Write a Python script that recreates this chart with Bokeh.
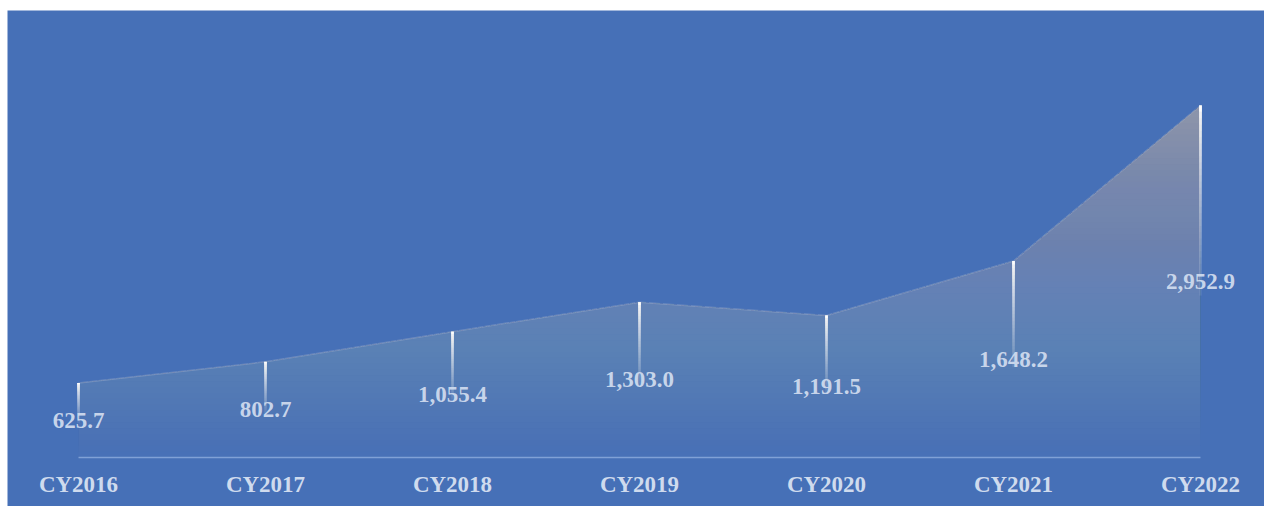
import numpy as np
from bokeh.plotting import figure
from bokeh.models import Range1d, ColumnDataSource
from bokeh.core.properties import value
from bokeh.embed import file_html
from bokeh.resources import INLINE

categories = ["CY2016", "CY2017", "CY2018", "CY2019", "CY2020", "CY2021", "CY2022"]
values = [625.7, 802.7, 1055.4, 1303.0, 1191.5, 1648.2, 2952.9]
value_labels = ["625.7", "802.7", "1,055.4", "1,303.0", "1,191.5", "1,648.2", "2,952.9"]

BG = "#4670B7"
TXT = "#CFDBEE"
FONT = value("Liberation Serif")

x = np.arange(len(categories), dtype=float)
v = np.array(values)
vmax = v.max()

p = figure(width=1264, height=506, output_backend="svg", toolbar_location=None,
           x_range=Range1d(-0.3797, 6.3422), y_range=Range1d(-411.0, 3749.7),
           min_border_left=7, min_border_top=10, min_border_right=0, min_border_bottom=0)
p.axis.visible = False
p.grid.visible = False
p.outline_line_color = None
p.background_fill_color = BG
p.border_fill_color = "white"

# gradient area: stacked layers (each from a level up to the curve)
xd = np.linspace(x[0], x[-1], 2400)
yd = np.interp(xd, x, v)
N = 60
levels = vmax * np.arange(N) / N
target = 0.02 + 0.78 * (levels + vmax / N) / vmax  # opacity at band k
prev = 0.0
for k in range(N):
    a = 1 - (1 - target[k]) / (1 - prev) if k > 0 else target[0]
    prev = target[k]
    p.varea(x=xd, y1=np.minimum(yd, levels[k]), y2=yd,
            fill_color="#AFAFB4", fill_alpha=float(a))

# faint top edge
p.line(x, v, line_color="#B4BCD0", line_alpha=0.35, line_width=1.5)

# baseline
p.line([x[0], x[-1]], [0, 0], line_color="#8FAEDD", line_alpha=0.8, line_width=1.5)

# drop lines fading downward (stacked segments from top)
M = 30
B = 1.0 - 0.93 * (np.arange(M) + 0.5) / M   # desired opacity per piece, top->bottom
B[0] = 0.999
alphas = np.zeros(M)
alphas[M - 1] = B[M - 1]
for j in range(M - 2, -1, -1):
    alphas[j] = 1 - (1 - B[j]) / (1 - B[j + 1])
for xi, vi in zip(x, v):
    edges = np.linspace(vi, vi * 0.46, M + 1)
    for j in range(M):
        p.segment(x0=[xi], y0=[vi], x1=[xi], y1=[edges[j + 1]],
                  line_color="white", line_alpha=float(alphas[j]), line_width=2.6,
                  line_cap="butt")

# value labels at middle of each drop
src = ColumnDataSource(dict(x=x, y=v / 2, t=value_labels))
p.text(x="x", y="y", text="t", source=src, text_align="center", text_baseline="middle",
       text_font=FONT, text_font_style="bold", text_font_size="23px",
       text_color=TXT, text_alpha=0.95)

# category labels
csrc = ColumnDataSource(dict(x=x, y=np.zeros_like(x), t=categories))
p.text(x="x", y="y", text="t", source=csrc, text_align="center", text_baseline="middle",
       y_offset=27, text_font=FONT, text_font_style="bold", text_font_size="23px",
       text_color=TXT)

open("out.html", "w").write(file_html(p, INLINE))
